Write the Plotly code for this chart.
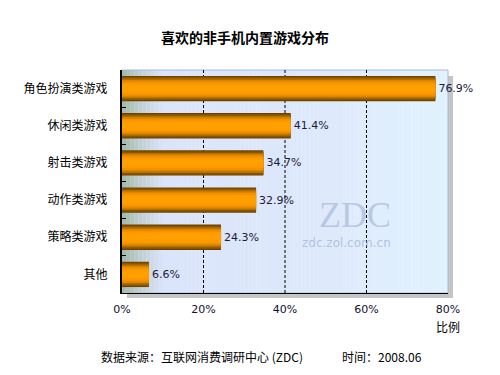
import plotly.graph_objects as go

categories = ["角色扮演类游戏", "休闲类游戏", "射击类游戏", "动作类游戏", "策略类游戏", "其他"]
values = [76.9, 41.4, 34.7, 32.9, 24.3, 6.6]
tick_vals = [0, 20, 40, 60, 80]
tick_text = ["0%", "20%", "40%", "60%", "80%"]
labels = [f"{v}%" for v in values]

CJK = "Noto Sans CJK SC, Noto Sans, sans-serif"
LAT = "Verdana, DejaVu Sans, sans-serif"

# page body has an 8px default margin; compensate
OFF = 8
W, H = 500, 375

fig = go.Figure()

layers = [
    (0.68, "#6e4300"),
    (0.62, "#8c5600"),
    (0.54, "#b46f00"),
    (0.46, "#d98500"),
    (0.38, "#f29200"),
    (0.28, "#ff9b00"),
    (0.16, "#ffa000"),
]
for i, (w, c) in enumerate(layers):
    fig.add_trace(go.Bar(
        x=values, y=categories, orientation="h", width=w,
        marker=dict(color=c, line=dict(width=0)),
        text=labels if i == 0 else None,
        textposition="outside" if i == 0 else "none",
        textfont=dict(family=LAT, size=11, color="#1a1a3a"),
        cliponaxis=False, hoverinfo="skip", showlegend=False,
    ))

shapes = []
def lerp(a, b, t):
    return tuple(int(round(a[k] + (b[k] - a[k]) * t)) for k in range(3))
stops = [(0, (160, 184, 166)), (4, (188, 204, 205)), (10, (218, 228, 250)),
         (45, (222, 232, 252)), (80, (224, 242, 253))]
n = 80
for i in range(n):
    x0 = 80 * i / n
    x1 = 80 * (i + 1) / n
    xm = (x0 + x1) / 2
    for j in range(len(stops) - 1):
        if stops[j][0] <= xm <= stops[j + 1][0]:
            t = (xm - stops[j][0]) / (stops[j + 1][0] - stops[j][0])
            col = lerp(stops[j][1], stops[j + 1][1], t)
            break
    shapes.append(dict(type="rect", xref="x", yref="paper", x0=x0, x1=x1 + 0.05, y0=0, y1=1,
                       fillcolor="rgb(%d,%d,%d)" % col, line=dict(width=0), layer="below"))
shapes.append(dict(type="rect", xref="paper", yref="paper", x0=1.0, x1=1.0 + 5 / 326,
                   y0=-5 / 223, y1=1 - 6 / 223, fillcolor="rgba(150,150,150,0.55)",
                   line=dict(width=0), layer="below"))
shapes.append(dict(type="rect", xref="paper", yref="paper", x0=5 / 326, x1=1.0,
                   y0=-5 / 223, y1=0, fillcolor="rgba(150,150,150,0.55)",
                   line=dict(width=0), layer="below"))
shapes.append(dict(type="rect", xref="paper", yref="paper", x0=0, x1=1, y0=0, y1=1,
                   line=dict(color="#a8b8dc", width=1), layer="below"))
for tv in tick_vals[1:-1]:
    shapes.append(dict(type="line", xref="x", yref="paper", x0=tv, x1=tv, y0=0, y1=1,
                       line=dict(color="#000000", width=1, dash="3px,2px"), layer="below"))

L, T = 122 - OFF, 70 - OFF
fig.update_layout(
    width=W, height=H,
    margin=dict(l=L, r=W - L - 326, t=T, b=H - T - 223),
    paper_bgcolor="white", plot_bgcolor="rgba(0,0,0,0)",
    barmode="overlay", shapes=shapes,
    title=dict(text="<b>喜欢的非手机内置游戏分布</b>", x=(245 - OFF) / W, xanchor="center",
               y=1 - (38 - OFF) / H, yanchor="middle",
               font=dict(family=CJK, size=14, color="#000000")),
    xaxis=dict(range=[0, 80], tickvals=tick_vals, ticktext=tick_text, showgrid=False,
               zeroline=False, showline=True, linecolor="#000000", linewidth=1,
               ticks="", ticklabelstandoff=6, automargin=False,
               tickfont=dict(family=LAT, size=11, color="#101030")),
    yaxis=dict(categoryorder="array", categoryarray=categories, autorange="reversed",
               showgrid=False, showline=True, linecolor="#000000", linewidth=2,
               ticks="inside", tickson="boundaries", ticklen=4, tickcolor="#000000",
               ticklabelstandoff=10, automargin=False,
               tickfont=dict(family=CJK, size=12, color="#000000")),
    font=dict(family=CJK),
)

def py(ypix):
    return (293 - ypix) / 223

def px(xpix):
    return (xpix - 122) / 326

fig.add_annotation(text="比例", xref="paper", yref="paper", x=px(448), y=py(326), xanchor="center",
                   yanchor="middle", showarrow=False, font=dict(family=CJK, size=12, color="#000"))
fig.add_annotation(text="数据来源：互联网消费调研中心 (ZDC)", xref="paper", yref="paper",
                   x=px(202), y=py(356), xanchor="center", yanchor="middle",
                   showarrow=False, font=dict(family=CJK, size=12, color="#000"))
fig.add_annotation(text="时间：2008.06", xref="paper", yref="paper",
                   x=px(382), y=py(356), xanchor="center", yanchor="middle",
                   showarrow=False, font=dict(family=CJK, size=12, color="#000"))
fig.add_annotation(text="ZDC", xref="paper", yref="paper",
                   x=px(355), y=py(215), xanchor="center", yanchor="middle",
                   showarrow=False, font=dict(family="Liberation Serif, serif", size=36, color="rgba(150,170,205,0.55)"))
fig.add_annotation(text="zdc.zol.com.cn", xref="paper", yref="paper",
                   x=px(346), y=py(243), xanchor="center", yanchor="middle",
                   showarrow=False, font=dict(family=LAT, size=12, color="rgba(150,170,205,0.65)"))

fig.write_html("out.html")
